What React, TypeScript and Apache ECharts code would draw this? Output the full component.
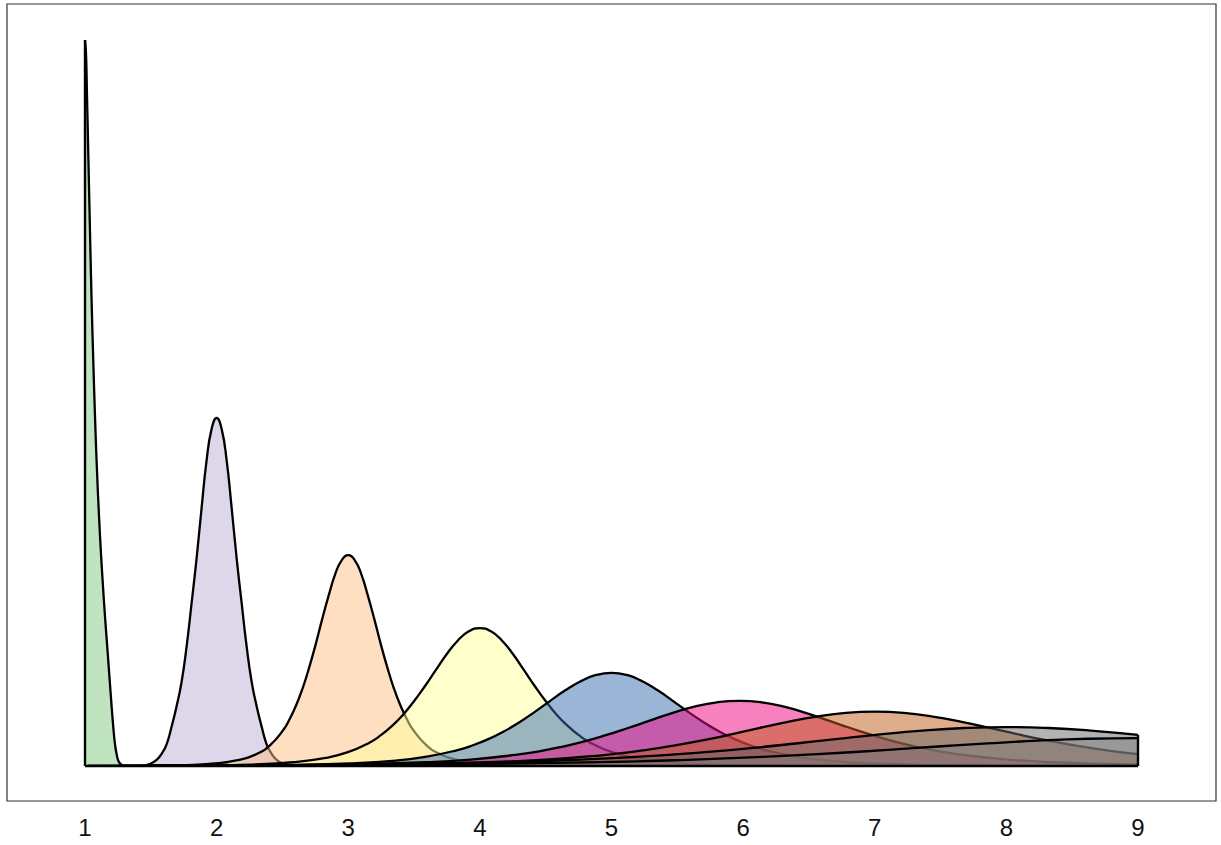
import React, { useEffect, useRef } from "react";
import * as echarts from "echarts";

const tickLabels = [1, 2, 3, 4, 5, 6, 7, 8, 9];
const fillColors = ["#7fc97f", "#beaed4", "#fdc086", "#ffff99", "#386cb0", "#f0027f", "#bf5b17", "#666666", "#7f7f7f"];

const curve1: number[][] = [[1.0, 5.34], [1.0076, 5.24], [1.0152, 4.93], [1.0228, 4.6], [1.0304, 4.26], [1.038, 3.93], [1.0456, 3.6], [1.0532, 3.31], [1.0608, 3.05], [1.076, 2.57], [1.0912, 2.17], [1.1064, 1.84], [1.1216, 1.56], [1.1368, 1.32], [1.152, 1.1], [1.1672, 0.9], [1.1824, 0.7], [1.1976, 0.5], [1.2128, 0.31], [1.228, 0.16], [1.2432, 0.074], [1.2584, 0.029], [1.2812, 0.007], [1.304, 0]];
const curve2: number[][] = [[1.43, 0], [1.491, 0.015], [1.544, 0.045], [1.582, 0.09], [1.62, 0.16], [1.658, 0.29], [1.696, 0.44], [1.734, 0.62], [1.772, 0.88], [1.81, 1.2], [1.848, 1.53], [1.886, 1.9], [1.924, 2.25], [1.962, 2.48], [2.0, 2.56], [2.038, 2.48], [2.076, 2.25], [2.114, 1.9], [2.152, 1.53], [2.19, 1.2], [2.228, 0.88], [2.266, 0.62], [2.304, 0.44], [2.342, 0.29], [2.38, 0.16], [2.418, 0.09], [2.456, 0.045], [2.509, 0.015], [2.57, 0]];
const curve3: number[][] = [[1.518, 0.003], [1.765, 0.007], [1.963, 0.017], [2.16, 0.043], [2.308, 0.091], [2.407, 0.154], [2.506, 0.265], [2.555, 0.346], [2.605, 0.449], [2.654, 0.574], [2.704, 0.728], [2.753, 0.897], [2.802, 1.081], [2.852, 1.257], [2.901, 1.412], [2.951, 1.515], [3.0, 1.551], [3.049, 1.515], [3.099, 1.412], [3.148, 1.257], [3.198, 1.081], [3.247, 0.897], [3.296, 0.728], [3.346, 0.574], [3.395, 0.449], [3.445, 0.346], [3.494, 0.265], [3.593, 0.154], [3.692, 0.091], [3.84, 0.043], [4.037, 0.017], [4.235, 0.007], [4.482, 0.003]];
const curve4: number[][] = [[1.492, 0.0018], [1.91, 0.0047], [2.244, 0.011], [2.579, 0.028], [2.83, 0.06], [2.997, 0.102], [3.164, 0.174], [3.248, 0.227], [3.331, 0.294], [3.415, 0.376], [3.498, 0.475], [3.582, 0.587], [3.666, 0.707], [3.749, 0.824], [3.833, 0.924], [3.916, 0.991], [4.0, 1.015], [4.084, 0.991], [4.167, 0.924], [4.251, 0.824], [4.334, 0.707], [4.418, 0.587], [4.502, 0.475], [4.585, 0.376], [4.669, 0.294], [4.752, 0.227], [4.836, 0.174], [5.003, 0.102], [5.17, 0.06], [5.421, 0.028], [5.756, 0.011], [6.09, 0.0047], [6.508, 0.0018]];
const curve5: number[][] = [[1.49, 0.0012], [2.075, 0.0032], [2.543, 0.0074], [3.011, 0.019], [3.362, 0.04], [3.596, 0.069], [3.83, 0.118], [3.947, 0.153], [4.064, 0.198], [4.181, 0.254], [4.298, 0.321], [4.415, 0.397], [4.532, 0.478], [4.649, 0.557], [4.766, 0.624], [4.883, 0.67], [5.0, 0.686], [5.117, 0.67], [5.234, 0.624], [5.351, 0.557], [5.468, 0.478], [5.585, 0.397], [5.702, 0.321], [5.819, 0.254], [5.936, 0.198], [6.053, 0.153], [6.17, 0.118], [6.404, 0.069], [6.638, 0.04], [6.989, 0.019], [7.457, 0.0074], [7.925, 0.0032], [8.51, 0.0012]];
const curve6: number[][] = [[1.72, 0.0022], [2.4, 0.0052], [3.08, 0.0132], [3.59, 0.028], [3.93, 0.048], [4.27, 0.082], [4.44, 0.107], [4.61, 0.139], [4.78, 0.178], [4.95, 0.225], [5.12, 0.278], [5.29, 0.334], [5.46, 0.39], [5.63, 0.437], [5.8, 0.469], [5.97, 0.48], [6.14, 0.469], [6.31, 0.437], [6.48, 0.39], [6.65, 0.334], [6.82, 0.278], [6.99, 0.225], [7.16, 0.178], [7.33, 0.139], [7.5, 0.107], [7.67, 0.082], [8.01, 0.048], [8.35, 0.028], [8.86, 0.0132], [9.0, 0.0106]];
const curve7: number[][] = [[1.5, 0.0018], [2.38, 0.0043], [3.26, 0.011], [3.92, 0.024], [4.36, 0.04], [4.8, 0.069], [5.02, 0.089], [5.24, 0.116], [5.46, 0.148], [5.68, 0.187], [5.9, 0.231], [6.12, 0.279], [6.34, 0.325], [6.56, 0.364], [6.78, 0.391], [7.0, 0.4], [7.22, 0.391], [7.44, 0.364], [7.66, 0.325], [7.88, 0.279], [8.1, 0.231], [8.32, 0.187], [8.54, 0.148], [8.76, 0.116], [9.0, 0.088]];
const curve8: number[][] = [[1.28, 0.0031], [2.56, 0.0079], [3.52, 0.017], [4.16, 0.029], [4.8, 0.049], [5.12, 0.064], [5.44, 0.083], [5.76, 0.106], [6.08, 0.134], [6.4, 0.166], [6.72, 0.2], [7.04, 0.233], [7.36, 0.261], [7.68, 0.28], [8.0, 0.287], [8.32, 0.28], [8.64, 0.261], [9.0, 0.229]];
const curve9: number[][] = [[1.02, 0.0022], [2.54, 0.0057], [3.68, 0.012], [4.44, 0.021], [5.2, 0.035], [5.58, 0.046], [5.96, 0.06], [6.34, 0.076], [6.72, 0.096], [7.1, 0.119], [7.48, 0.144], [7.86, 0.167], [8.24, 0.187], [8.62, 0.201], [9.0, 0.206]];

const curves = [curve1, curve2, curve3, curve4, curve5, curve6, curve7, curve8, curve9];
const leftEdge: number[][] = [[1, 0], [1, 5.34]];
const rightEdge: number[][] = [[9, 0], [9, 0.229]];
const baseline: number[][] = [[1, 0], [9, 0]];

export default function App() {
  const ref = useRef<HTMLDivElement>(null);
  useEffect(() => {
    document.body.style.margin = "0";
    const chart = echarts.init(ref.current as HTMLDivElement, null, { renderer: "svg" });
    const series: any[] = curves.map((c, i) => ({
      type: "line",
      data: c,
      smooth: 0.5,
      showSymbol: false,
      symbol: "none",
      z: 2 + i,
      lineStyle: { color: "#000", width: 2.3, join: "round" },
      areaStyle: { color: fillColors[i], opacity: 0.5 },
      silent: true,
    }));
    [leftEdge, rightEdge, baseline].forEach((d) => {
      series.push({
        type: "line",
        data: d,
        showSymbol: false,
        symbol: "none",
        z: 20,
        lineStyle: { color: "#000", width: 2.4 },
        silent: true,
      });
    });
    chart.setOption({
      animation: false,
      grid: { left: 7, top: 4, width: 1209, height: 797, show: true, borderColor: "#333", borderWidth: 1.2, backgroundColor: "#fff" },
      xAxis: {
        type: "value",
        min: 0.4074,
        max: 9.5926,
        axisLine: { show: false },
        axisTick: { show: false },
        splitLine: { show: false },
        axisLabel: {
          customValues: tickLabels,
          fontSize: 24,
          color: "#111",
          fontFamily: "'Liberation Sans', Arial, sans-serif",
          margin: 14,
        },
      },
      yAxis: {
        type: "value",
        min: -0.257,
        max: 5.605,
        show: false,
        splitLine: { show: false },
      },
      series,
    });
    return () => chart.dispose();
  }, []);
  return <div ref={ref} style={{ width: 1221, height: 845 }} />;
}
